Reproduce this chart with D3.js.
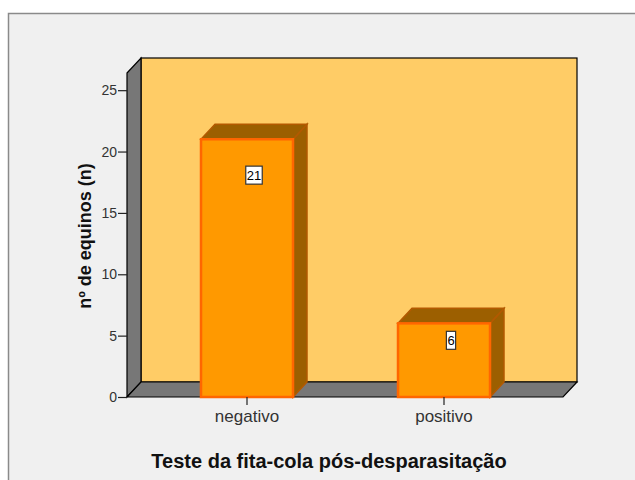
<!DOCTYPE html>
<html>
<head>
<meta charset="utf-8">
<script src="https://cdn.jsdelivr.net/npm/d3@7"></script>
<style>
  body { margin: 0; background: #fff; }
  svg { display: block; font-family: "Liberation Sans", Arial, sans-serif; }
</style>
</head>
<body>
<div id="chart"></div>
<script>
// data
var categories = ["negativo", "positivo"];
var counts = [21, 6];
var yTicks = [0, 5, 10, 15, 20, 25];
var xTitle = "Teste da fita-cola pós-desparasitação";
var yTitle = "nº de equinos (n)";

var W = 635, H = 480;
var dx = 14, dy = 15; // 3d depth offset

var svg = d3.select("#chart").append("svg")
    .attr("width", W).attr("height", H);

// outer frame
svg.append("rect")
    .attr("x", 8.5).attr("y", 13.5)
    .attr("width", W).attr("height", H)
    .attr("fill", "#f0f0f0")
    .attr("stroke", "#8a8a8a")
    .attr("stroke-width", 1.5);

var x0 = 127, x1 = 563; // front axis extent
var y = d3.scaleLinear().domain([0, 26.4]).range([397, 73]);
var x = d3.scaleBand().domain(categories).range([148.5, 542.5]);
var barW = 92;

var yTop = y.range()[1], yBot = y.range()[0];

// back wall
svg.append("rect")
    .attr("x", x0 + dx).attr("y", yTop - dy)
    .attr("width", x1 - x0).attr("height", yBot - yTop)
    .attr("fill", "#ffcc66")
    .attr("stroke", "#000").attr("stroke-width", 1.2);

// left side wall
svg.append("polygon")
    .attr("points", [[x0, yTop], [x0 + dx, yTop - dy], [x0 + dx, yBot - dy], [x0, yBot]].join(" "))
    .attr("fill", "#777777")
    .attr("stroke", "#000").attr("stroke-width", 1.2);

// floor
svg.append("polygon")
    .attr("points", [[x0, yBot], [x0 + dx, yBot - dy], [x1 + dx, yBot - dy], [x1, yBot]].join(" "))
    .attr("fill", "#777777")
    .attr("stroke", "#000").attr("stroke-width", 1.2);

// y axis
var yAxis = svg.append("g")
    .attr("transform", "translate(" + x0 + ",0)")
    .call(d3.axisLeft(y).tickValues(yTicks).tickSize(9).tickPadding(1));
yAxis.select(".domain").remove();
yAxis.selectAll("line").attr("stroke", "#222").attr("stroke-width", 1.2);
yAxis.selectAll("text")
    .attr("fill", "#333")
    .style("font-size", "14px")
    .style("font-family", "Liberation Sans, Arial, sans-serif");

// bars
var bars = svg.append("g").selectAll("g")
    .data(categories)
    .enter().append("g");

bars.each(function(c, i) {
    var g = d3.select(this);
    var cx = x(c) + x.bandwidth() / 2;
    var l = cx - barW / 2, r = cx + barW / 2;
    var t = y(counts[i]), b = y(0);
    // side
    g.append("polygon")
        .attr("points", [[r, t], [r + dx, t - dy], [r + dx, b - dy], [r, b]].join(" "))
        .attr("fill", "#9c5f00")
        .attr("stroke", "#b35900").attr("stroke-width", 1.5);
    // top
    g.append("polygon")
        .attr("points", [[l, t], [l + dx, t - dy], [r + dx, t - dy], [r, t]].join(" "))
        .attr("fill", "#9c5f00")
        .attr("stroke", "#b35900").attr("stroke-width", 1.5);
    // front
    g.append("rect")
        .attr("x", l).attr("y", t)
        .attr("width", barW).attr("height", b - t)
        .attr("fill", "#ff9900")
        .attr("stroke", "#ff6600").attr("stroke-width", 2.5);

    // value label
    var lx = cx + dx / 2, ly = t + 9.4 + 0.1027 * (b - t);
    var txt = g.append("text")
        .attr("x", lx).attr("y", ly)
        .attr("text-anchor", "middle")
        .attr("dominant-baseline", "central")
        .style("font-size", "13px")
        .attr("fill", "#000")
        .text(counts[i]);
    var bb = txt.node().getBBox();
    g.insert("rect", "text")
        .attr("x", bb.x - 1).attr("y", ly - 9)
        .attr("width", bb.width + 2).attr("height", 18)
        .attr("fill", "#fff")
        .attr("stroke", "#333").attr("stroke-width", 1.2);
});

// x axis ticks + labels
var xAxis = svg.append("g")
    .attr("transform", "translate(0," + yBot + ")")
    .call(d3.axisBottom(x).tickSize(8).tickPadding(5));
xAxis.select(".domain").remove();
xAxis.selectAll("line").attr("stroke", "#222").attr("stroke-width", 1.2);
xAxis.selectAll("text")
    .attr("fill", "#333")
    .style("font-size", "17px")
    .style("font-family", "Liberation Sans, Arial, sans-serif");

// axis titles
svg.append("text")
    .attr("x", 329).attr("y", 468)
    .attr("text-anchor", "middle")
    .style("font-size", "20px")
    .style("font-weight", "bold")
    .attr("fill", "#111")
    .text(xTitle);

svg.append("text")
    .attr("transform", "translate(91,236) rotate(-90)")
    .attr("text-anchor", "middle")
    .style("font-size", "18px")
    .style("font-weight", "bold")
    .attr("fill", "#111")
    .text(yTitle);
</script>
</body>
</html>
